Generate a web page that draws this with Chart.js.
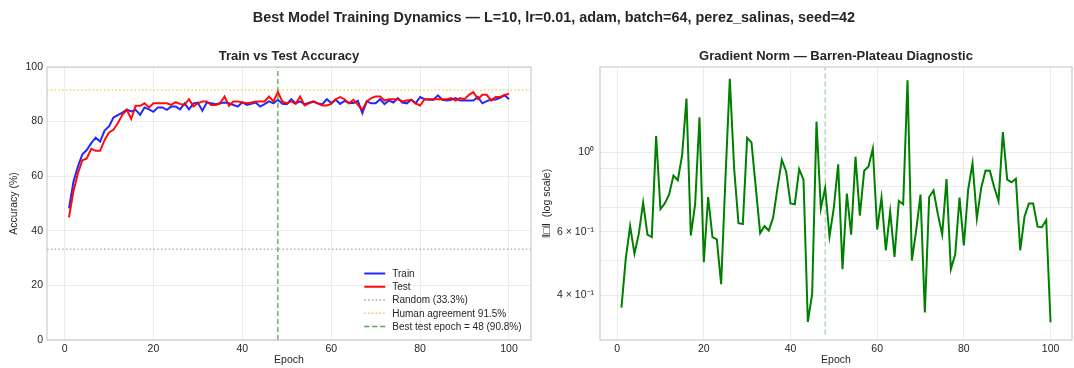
<!DOCTYPE html>
<html><head><meta charset="utf-8">
<script src="https://cdn.jsdelivr.net/npm/chart.js@4.4.1/dist/chart.umd.min.js"></script>
<style>
html,body{margin:0;padding:0;background:#fff;width:1074px;height:368px;overflow:hidden;position:relative}
#sup{position:absolute;left:17px;top:8px;width:1074px;text-align:center;font:bold 14.4px 'Liberation Sans',Arial,sans-serif;color:#262626;line-height:18px;z-index:2}
#c1{position:absolute;left:0;top:0}
#c2{position:absolute;left:540px;top:0}
</style></head><body>
<canvas id="c1" width="540" height="368"></canvas>
<canvas id="c2" width="534" height="368"></canvas>
<div id="sup">Best Model Training Dynamics — L=10, lr=0.01, adam, batch=64, perez_salinas, seed=42</div>
<script>
// ---------- data ----------
const EPOCHS = Array.from({length: 100}, (_, i) => i + 1);
const TRAIN = [48.2, 58.0, 63.5, 68.0, 69.6, 72.1, 74.1, 72.7, 76.7, 78.2,
  81.5, 82.4, 83.3, 84.4, 83.7, 84.3, 82.5, 85.2, 84.5, 83.6,
  85.2, 85.2, 84.3, 85.5, 85.5, 84.5, 86.7, 84.5, 86.7, 87.0,
  84.0, 87.0, 86.7, 86.4, 86.7, 87.0, 86.7, 86.1, 85.5, 87.1,
  86.1, 86.5, 87.0, 85.5, 86.4, 87.4, 86.7, 88.0, 86.5, 86.4,
  88.2, 86.7, 87.4, 86.4, 86.9, 87.3, 86.6, 86.4, 88.2, 86.8,
  88.0, 86.5, 87.6, 86.8, 86.8, 87.6, 83.1, 87.4, 86.7, 86.7,
  88.2, 86.4, 87.7, 87.0, 88.6, 87.0, 86.7, 88.0, 86.7, 89.0,
  88.2, 88.0, 88.0, 89.6, 88.0, 87.7, 88.0, 88.6, 87.7, 87.7,
  87.7, 87.7, 89.0, 86.7, 87.5, 88.1, 88.1, 88.7, 89.7, 88.2];
const TEST = [44.9, 54.5, 61.0, 65.8, 66.5, 70.0, 69.3, 69.3, 73.2, 76.0,
  77.0, 79.5, 82.5, 84.3, 81.0, 85.8, 85.8, 86.7, 85.2, 86.7,
  86.7, 86.7, 86.7, 86.1, 87.1, 86.5, 86.1, 88.2, 85.5, 86.7,
  87.4, 87.4, 86.1, 86.1, 86.7, 89.2, 85.8, 87.4, 87.4, 87.0,
  86.7, 87.0, 87.4, 87.4, 87.4, 89.2, 87.4, 90.8, 87.4, 86.7,
  87.4, 86.5, 89.2, 85.9, 86.7, 87.4, 86.7, 85.9, 85.9, 86.5,
  88.2, 89.0, 88.2, 86.7, 88.0, 86.1, 84.3, 87.4, 88.6, 89.2,
  89.2, 87.7, 88.2, 88.2, 88.2, 87.4, 87.7, 88.0, 86.7, 85.9,
  88.2, 88.2, 88.2, 88.2, 88.2, 88.2, 88.6, 87.7, 88.6, 88.2,
  89.8, 90.8, 88.2, 89.8, 89.8, 87.7, 89.0, 89.0, 89.7, 90.2];
const GRAD = [0.369, 0.506, 0.622, 0.522, 0.592, 0.723, 0.589, 0.580, 1.108, 0.694,
  0.720, 0.762, 0.860, 0.835, 0.981, 1.409, 0.586, 0.716, 1.250, 0.494,
  0.750, 0.580, 0.572, 0.429, 0.850, 1.599, 0.900, 0.634, 0.631, 1.095,
  1.063, 0.795, 0.595, 0.622, 0.605, 0.658, 0.795, 0.951, 0.883, 0.720,
  0.716, 0.897, 0.838, 0.337, 0.403, 1.216, 0.697, 0.795, 0.583, 0.701,
  0.925, 0.472, 0.767, 0.589, 0.971, 0.665, 0.887, 0.912, 1.023, 0.609,
  0.747, 0.533, 0.684, 0.511, 0.731, 0.716, 1.585, 0.499, 0.605, 0.762,
  0.358, 0.750, 0.782, 0.672, 0.590, 0.841, 0.472, 0.519, 0.747, 0.550,
  0.787, 0.931, 0.654, 0.795, 0.889, 0.887, 0.798, 0.731, 1.137, 0.838,
  0.824, 0.843, 0.533, 0.662, 0.719, 0.719, 0.620, 0.618, 0.647, 0.336];
const RANDOM_ACC = 33.3;
const HUMAN_ACC = 91.5;
const BEST_EPOCH = 48;
const BEST_ACC = 90.8;
const X_TICKS = [0, 20, 40, 60, 80, 100];
const ACC_TICKS = [0, 20, 40, 60, 80, 100];
const LOG_TICKS = [0.4, 0.5, 0.6, 0.7, 0.8, 0.9, 1.0];
const LOG_TICK_LABELS = {0.4: '4 × 10⁻¹', 0.6: '6 × 10⁻¹', 1.0: '10⁰'};
const X_MIN = -3.95, X_MAX = 104.95;
const ACC_MIN = 0, ACC_MAX = 100;
const LOG_MIN = 0.311, LOG_MAX = 1.725;

// ---------- style ----------
const FONT = "'Liberation Sans', Arial, Helvetica, sans-serif";
const TXT = '#262626';
const GRID = '#ebebeb';
const EDGE = '#cccccc';

const pts = (xs, ys) => xs.map((x, i) => ({x: x, y: ys[i]}));

const frame = {
  id: 'frame',
  afterDraw(chart) {
    const {ctx, chartArea: a} = chart;
    ctx.save();
    ctx.strokeStyle = EDGE; ctx.lineWidth = 1.2;
    ctx.strokeRect(a.left, a.top, a.right - a.left, a.bottom - a.top);
    ctx.restore();
  }
};

const insideLegend = {
  id: 'insideLegend',
  afterDraw(chart, args, opts) {
    if (!opts || !opts.show) return;
    const {ctx, chartArea: a} = chart;
    const dsets = chart.data.datasets.filter(d => d.label).sort((p, q) => q.order - p.order);
    ctx.save();
    ctx.font = '10px ' + FONT;
    ctx.textBaseline = 'middle';
    let maxW = 0;
    dsets.forEach(d => { maxW = Math.max(maxW, ctx.measureText(d.label).width); });
    const textX = a.right - opts.rightGap - maxW;
    const n = dsets.length;
    dsets.forEach((d, i) => {
      const y = a.bottom - opts.bottomGap - (n - 1 - i) * opts.spacing;
      ctx.strokeStyle = d.borderColor;
      ctx.lineWidth = d.borderWidth;
      ctx.setLineDash(d.borderDash || []);
      ctx.beginPath();
      ctx.moveTo(textX - 28, y); ctx.lineTo(textX - 7, y);
      ctx.stroke();
      ctx.setLineDash([]);
      ctx.fillStyle = TXT;
      ctx.fillText(d.label, textX, y + 0.5);
    });
    ctx.restore();
  }
};

function xScale() {
  return {
    type: 'linear', min: X_MIN, max: X_MAX,
    afterBuildTicks: s => { s.ticks = X_TICKS.map(v => ({value: v})); },
    afterFit: s => { s.height = 28; },
    grid: {color: GRID, lineWidth: 1, drawTicks: false},
    border: {display: false},
    ticks: {font: {family: FONT, size: 10.5}, color: TXT, padding: 3, autoSkip: false, maxRotation: 0,
      callback: v => String(v)},
    title: {display: true, text: 'Epoch', font: {family: FONT, size: 10.5}, color: TXT, padding: {top: 0, bottom: 2}}
  };
}

Chart.defaults.animation = false;

new Chart(document.getElementById('c1'), {
  type: 'line',
  data: {
    datasets: [
      {label: 'Best test epoch = ' + BEST_EPOCH + ' (' + BEST_ACC + '%)', data: pts([BEST_EPOCH, BEST_EPOCH], [ACC_MIN, ACC_MAX]),
        borderColor: 'rgba(0,128,0,0.7)', borderWidth: 1.3, borderDash: [5, 3], order: 1},
      {label: 'Human agreement ' + HUMAN_ACC + '%', data: pts([X_MIN, X_MAX], [HUMAN_ACC, HUMAN_ACC]),
        borderColor: 'rgba(255,165,0,0.7)', borderWidth: 1.3, borderDash: [1.5, 2.3], order: 2},
      {label: 'Random (' + RANDOM_ACC + '%)', data: pts([X_MIN, X_MAX], [RANDOM_ACC, RANDOM_ACC]),
        borderColor: 'rgba(128,128,128,0.7)', borderWidth: 1.3, borderDash: [1.5, 2.3], order: 3},
      {label: 'Test', data: pts(EPOCHS, TEST), borderColor: 'rgba(255,0,0,0.95)', borderWidth: 2, order: 4},
      {label: 'Train', data: pts(EPOCHS, TRAIN), borderColor: 'rgba(0,0,255,0.85)', borderWidth: 2, order: 5}
    ]
  },
  options: {
    responsive: false, animation: false,
    elements: {point: {radius: 0, hoverRadius: 0}, line: {tension: 0, fill: false}},
    layout: {padding: {left: 0, right: 9, top: 49, bottom: 0}},
    plugins: {
      legend: {display: false}, tooltip: {enabled: false},
      title: {display: true, text: 'Train vs Test Accuracy', fullSize: false, color: TXT,
        font: {family: FONT, size: 13, weight: 'bold'}, padding: {top: 0, bottom: 2.4}},
      insideLegend: {show: true, rightGap: 9.5, bottomGap: 13.5, spacing: 13.25}
    },
    scales: {
      x: xScale(),
      y: {
        type: 'linear', min: ACC_MIN, max: ACC_MAX,
        afterBuildTicks: s => { s.ticks = ACC_TICKS.map(v => ({value: v})); },
        afterFit: s => { s.width = 47; },
        grid: {color: GRID, lineWidth: 1, drawTicks: false},
        border: {display: false},
        ticks: {font: {family: FONT, size: 10.5}, color: TXT, padding: 4, callback: v => String(v)},
        title: {display: true, text: 'Accuracy (%)', font: {family: FONT, size: 10.5}, color: TXT, padding: {top: 7.7, bottom: 0}}
      }
    }
  },
  plugins: [frame, insideLegend]
});

new Chart(document.getElementById('c2'), {
  type: 'line',
  data: {
    datasets: [
      {data: pts([BEST_EPOCH, BEST_EPOCH], [LOG_MIN, LOG_MAX]),
        borderColor: 'rgba(0,128,0,0.4)', borderWidth: 1.1, borderDash: [5, 3], order: 1},
      {data: pts(EPOCHS, GRAD), borderColor: '#008000', borderWidth: 2, order: 2}
    ]
  },
  options: {
    responsive: false, animation: false,
    elements: {point: {radius: 0, hoverRadius: 0}, line: {tension: 0, fill: false}},
    layout: {padding: {left: 0, right: 2, top: 49, bottom: 0}},
    plugins: {
      legend: {display: false}, tooltip: {enabled: false},
      title: {display: true, text: 'Gradient Norm — Barren-Plateau Diagnostic', fullSize: false, color: TXT,
        font: {family: FONT, size: 13, weight: 'bold'}, padding: {top: 0, bottom: 2.4}}
    },
    scales: {
      x: xScale(),
      y: {
        type: 'logarithmic', min: LOG_MIN, max: LOG_MAX,
        afterBuildTicks: s => { s.ticks = LOG_TICKS.map(v => ({value: v})); },
        afterFit: s => { s.width = 60; },
        grid: {color: GRID, lineWidth: 1, drawTicks: false},
        border: {display: false},
        ticks: {font: {family: FONT, size: 10.5}, color: TXT, padding: 6, autoSkip: false,
          callback: v => LOG_TICK_LABELS[Math.round(v * 10) / 10] || ''},
        title: {display: true, text: '‖□‖  (log scale)', font: {family: FONT, size: 10.5}, color: TXT, padding: {top: 0.7, bottom: 0}}
      }
    }
  },
  plugins: [frame]
});
</script>
</body></html>
